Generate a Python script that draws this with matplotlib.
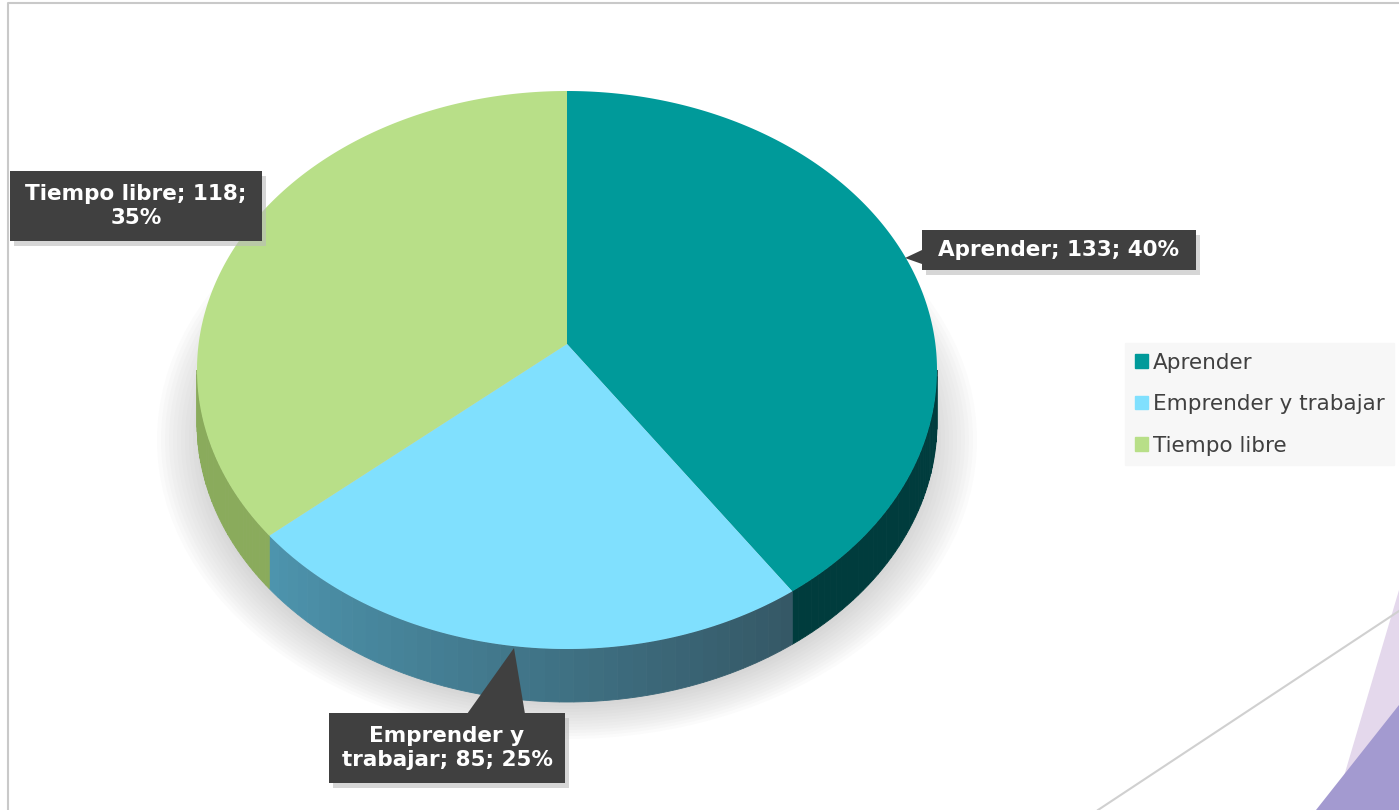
import numpy as np
import matplotlib.pyplot as plt
from matplotlib.patches import Polygon, Rectangle, Ellipse, Patch
from matplotlib.colors import to_rgb

categories = ["Aprender", "Emprender y trabajar", "Tiempo libre"]
values = [133, 85, 118]
top_colors = ["#009a9a", "#80e0fe", "#b8df88"]
side_colors = ["#003c3d", "#355866", "#8aab5c"]
side_light = ["#003c3d", "#4d94ad", "#8aab5c"]
# how each data label is wrapped in the picture
label_lines = [1, 2, 2]

W, H = 1399, 810
fig = plt.figure(figsize=(W / 100, H / 100), dpi=100)
ax = fig.add_axes([0, 0, 1, 1])
ax.set_xlim(0, W)
ax.set_ylim(H, 0)
ax.axis("off")

# slide decoration + chart frame
ax.add_patch(Polygon([[1399, 590], [1399, 810], [1334, 810]], color="#e4d8ec", lw=0, zorder=0))
ax.add_patch(Polygon([[1399, 705], [1399, 810], [1316, 810]], color="#a39ad0", lw=0, zorder=0))
ax.plot([1098, 1399], [810, 611], color="#d0d0d0", lw=1.5, zorder=0)
ax.plot([8, 8, 1399], [810, 3, 3], color="#c9c9c9", lw=1.5, zorder=8)

cx, cy, rx, ry, depth = 567, 370, 370, 279, 53
apex = (567, 344)


def pt(theta, dy=0):
    t = np.radians(theta)
    return cx + rx * np.sin(t), cy - ry * np.cos(t) + dy


# soft shadow behind the pie
for k in range(14):
    ax.add_patch(Ellipse((567, 440), 2 * (rx + 40 - k * 4), 2 * (ry + 20 - k * 3),
                         color="#9a9a9a", alpha=0.035, lw=0, zorder=1))
ax.add_patch(Rectangle((9, 4), W, 271, color="white", lw=0, zorder=1.5))

total = sum(values)
bounds = np.concatenate([[0], np.cumsum(values) / total * 360])

# sides (front half of the cylinder)
for i in range(len(values)):
    a0, a1 = max(bounds[i], 90), min(bounds[i + 1], 270)
    if a1 <= a0:
        continue
    n = 40
    edges = np.linspace(a0, a1, n + 1)
    c0, c1 = np.array(to_rgb(side_colors[i])), np.array(to_rgb(side_light[i]))
    for j in range(n):
        th = np.linspace(edges[j], edges[j + 1], 4)
        upper = [pt(t) for t in th]
        lower = [pt(t, depth) for t in th[::-1]]
        f = j / (n - 1)
        col = c0 + (c1 - c0) * f
        ax.add_patch(Polygon(upper + lower, color=col, lw=0.6, ec=col, zorder=2))

# top surface
for i in range(len(values)):
    th = np.linspace(bounds[i], bounds[i + 1], 200)
    verts = [apex] + [pt(t) for t in th]
    ax.add_patch(Polygon(verts, color=top_colors[i], lw=0, zorder=3))

# data labels
pcts = [round(v / total * 100) for v in values]
box_col = "#404040"
boxes = [(922, 230, 274, 40), (329, 713, 236, 70), (10, 171, 252, 70)]
pointers = [[(922, 250), (922, 264), (905, 258)],
            [(467, 714), (525, 714), (514, 648)],
            None]
for i, cat in enumerate(categories):
    x, y, w, h = boxes[i]
    ax.add_patch(Rectangle((x + 4, y + 5), w, h, color="#bbbbbb", alpha=0.6, lw=0, zorder=4))
    ax.add_patch(Rectangle((x, y), w, h, color=box_col, lw=0, zorder=5))
    if pointers[i]:
        ax.add_patch(Polygon(pointers[i], color=box_col, lw=0, zorder=5))
    txt = f"{cat}; {values[i]}; {pcts[i]}%"
    if label_lines[i] == 2:
        words = txt.split(" ")
        if cat == "Tiempo libre":
            txt = " ".join(words[:3]) + "\n" + " ".join(words[3:])
        else:
            txt = " ".join(words[:2]) + "\n" + " ".join(words[2:])
    ax.text(x + w / 2, y + h / 2, txt, ha="center", va="center", color="white",
            fontsize=15.5, fontweight="bold", linespacing=1.2, zorder=6)

handles = [Patch(color=c) for c in top_colors]
leg = ax.legend(handles, categories, loc="upper left",
                bbox_to_anchor=(1125 / W, 1 - 343 / H), bbox_transform=ax.transAxes,
                frameon=True, fancybox=False, facecolor="#f7f7f7", edgecolor="#f7f7f7",
                fontsize=15.5, labelcolor="#404040", handlelength=0.6, handleheight=0.6,
                handletextpad=0.25, labelspacing=1.0, borderpad=0.45, borderaxespad=0)
leg.get_frame().set_alpha(1)

fig.savefig("out.png", dpi=100)
